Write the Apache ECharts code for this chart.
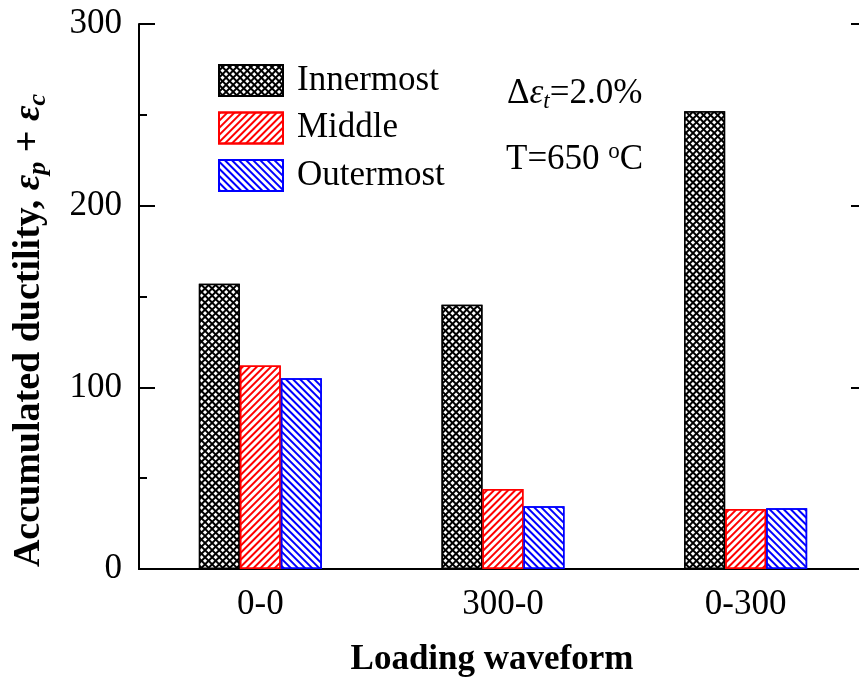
<!DOCTYPE html>
<html>
<head>
<meta charset="utf-8">
<script src="https://cdn.jsdelivr.net/npm/echarts@6/dist/echarts.min.js"></script>
<style>
  html, body { margin: 0; padding: 0; background: #fff; }
  #chart { width: 859px; height: 686px; }
</style>
</head>
<body>
<div id="chart"></div>
<script>
const waveforms = ['0-0', '300-0', '0-300'];
const innermost = [157, 145.5, 252];
const middle = [112, 44, 33];
const outermost = [105, 34.5, 33.5];
const yTicks = [0, 100, 200, 300];

const font = "'Times New Roman', 'Liberation Serif', serif";

const chart = echarts.init(document.getElementById('chart'));

// hatch patterns
const crossHatch = {
  symbol: 'rect',
  color: '#fff',
  dashArrayX: [3, 2],
  dashArrayY: [3, 2],
  rotation: Math.PI / 4
};
const lineHatch = (color, rot) => ({
  symbol: 'rect',
  color: color,
  dashArrayX: [1, 0],
  dashArrayY: [2, 3],
  rotation: rot
});

const yAxisBase = {
  type: 'value',
  min: yTicks[0],
  max: yTicks[yTicks.length - 1],
  interval: 100,
  axisLine: { show: true, lineStyle: { color: '#000', width: 2 } },
  axisTick: { show: true, inside: true, length: 16, lineStyle: { color: '#000', width: 2 } },
  minorTick: { show: true, splitNumber: 2, length: 8, lineStyle: { color: '#000', width: 2 } },
  splitLine: { show: false }
};

const option = {
  animation: false,
  backgroundColor: '#fff',
  grid: { left: 139, right: -8, top: 24, bottom: 117, containLabel: false, outerBoundsMode: 'none' },
  legend: {
    orient: 'vertical',
    left: 213,
    top: 58,
    icon: 'rect',
    itemWidth: 64,
    itemHeight: 31,
    itemGap: 12.5,
    textStyle: { fontFamily: font, fontSize: 35, color: '#000', lineHeight: 31, padding: [0, 0, 0, 9] },
    data: ['Innermost', 'Middle', 'Outermost']
  },
  xAxis: [
    {
      type: 'category',
      data: waveforms,
      axisLine: { lineStyle: { color: '#000', width: 2 } },
      axisTick: { show: false },
      axisLabel: { fontFamily: font, fontSize: 35, color: '#000', margin: 18 },
      name: 'Loading waveform',
      nameLocation: 'middle',
      nameGap: 91,
      nameTextStyle: { fontFamily: font, fontSize: 35, fontWeight: 'bold', color: '#000', verticalAlign: 'middle', padding: [0, 22, 0, 0] }
    },
    {
      type: 'category',
      data: waveforms,
      position: 'top',
      axisLine: { show: true, lineStyle: { color: '#000', width: 2 } },
      axisTick: { show: false },
      axisLabel: { show: false }
    }
  ],
  yAxis: [
    Object.assign({}, yAxisBase, {
      position: 'left',
      axisLabel: { fontFamily: font, fontSize: 35, color: '#000', margin: 17 },
      name: '{b|Accumulated ductility, }{e|ε}{s|p}{b| + }{e|ε}{s|c}',
      nameLocation: 'middle',
      nameGap: 110,
      nameTextStyle: {
        verticalAlign: 'middle',
        padding: [0, 68, 0, 0],
        rich: {
          b: { fontFamily: font, fontSize: 38, fontWeight: 'bold', color: '#000', lineHeight: 44 },
          e: { fontFamily: font, fontSize: 38, fontWeight: 'bold', fontStyle: 'italic', color: '#000', lineHeight: 44 },
          s: { fontFamily: font, fontSize: 26, fontWeight: 'bold', fontStyle: 'italic', color: '#000', lineHeight: 24, verticalAlign: 'bottom' }
        }
      }
    }),
    Object.assign({}, yAxisBase, {
      position: 'right',
      axisLabel: { show: false }
    })
  ],
  graphic: [
    {
      type: 'text',
      left: 507,
      top: 76,
      style: {
        text: '{n|Δ}{e|ε}{s|t}{n|=2.0%}',
        rich: {
          n: { fontFamily: font, fontSize: 35, color: '#000', lineHeight: 40 },
          e: { fontFamily: font, fontSize: 35, fontStyle: 'italic', color: '#000', lineHeight: 40 },
          s: { fontFamily: font, fontSize: 23, fontStyle: 'italic', color: '#000', lineHeight: 18, verticalAlign: 'bottom' }
        }
      }
    },
    {
      type: 'text',
      left: 506,
      top: 140,
      style: {
        text: '{n|T=650 }{u|o}{n|C}',
        rich: {
          n: { fontFamily: font, fontSize: 35, color: '#000', lineHeight: 40 },
          u: { fontFamily: font, fontSize: 23, color: '#000', lineHeight: 22, verticalAlign: 'top' }
        }
      }
    }
  ],
  series: [
    {
      name: 'Innermost',
      type: 'bar',
      data: innermost,
      barWidth: 41,
      barGap: '0%',
      itemStyle: { color: '#000', borderColor: '#000', borderWidth: 1.5, decal: crossHatch }
    },
    {
      name: 'Middle',
      type: 'bar',
      data: middle,
      barWidth: 41,
      barGap: '0%',
      itemStyle: { color: '#fff', borderColor: '#ff0000', borderWidth: 1.5, decal: lineHatch('#ff0000', -Math.PI / 4) }
    },
    {
      name: 'Outermost',
      type: 'bar',
      data: outermost,
      barWidth: 41,
      barGap: '0%',
      itemStyle: { color: '#fff', borderColor: '#0000ff', borderWidth: 1.5, decal: lineHatch('#0000ff', Math.PI / 4) }
    }
  ]
};

chart.setOption(option);
</script>
</body>
</html>
